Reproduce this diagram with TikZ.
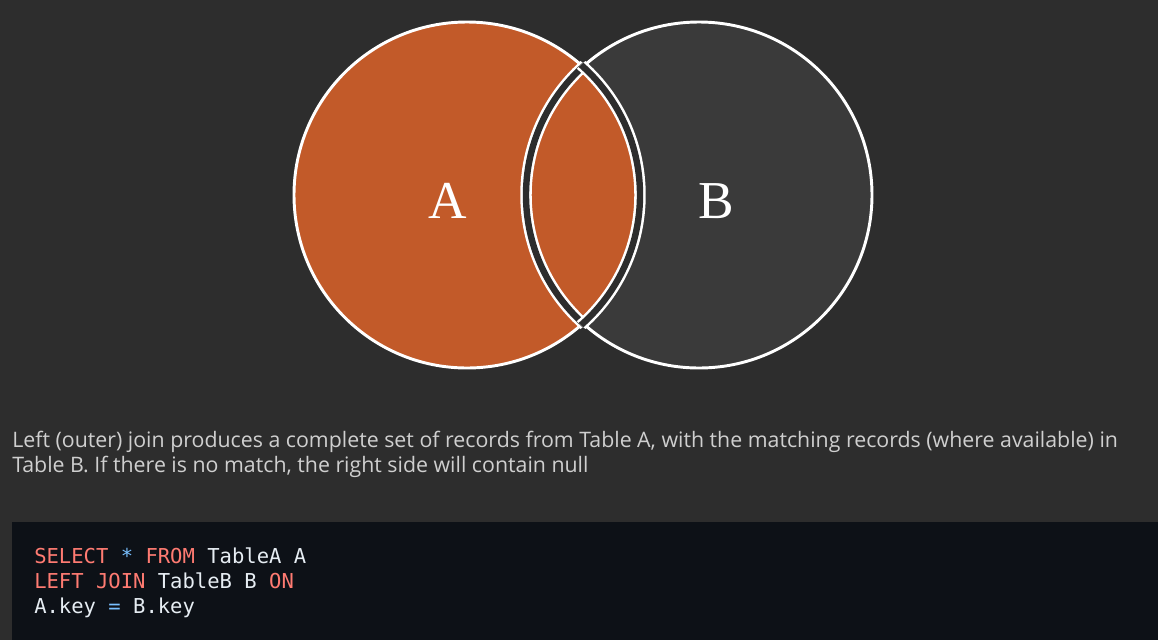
\documentclass[tikz,border=0pt]{standalone}
\usepackage{fontspec}
\usepackage{xcolor}
\usepackage{tikz}

\newfontfamily\descfont{Open Sans}
\newfontfamily\labelfont{Liberation Serif}
\setmonofont{DejaVu Sans Mono}

\definecolor{bgdark}{HTML}{2D2D2D}
\definecolor{setorange}{HTML}{C25A29}
\definecolor{setgrey}{HTML}{3A3A3A}
\definecolor{codebg}{HTML}{0D1117}
\definecolor{kwred}{HTML}{FF7B72}
\definecolor{opblue}{HTML}{79C0FF}
\definecolor{codetext}{HTML}{E6EDF3}
\definecolor{desctext}{HTML}{CFCFCF}

\tikzset{
  setline/.style={draw=white, line width=2.2pt},
  gapline/.style={draw=white, line width=1.9pt, double=bgdark, double distance=4.8pt},
  setlabel/.style={text=white, inner sep=0pt, anchor=base, font=\labelfont\fontsize{40pt}{42pt}\selectfont},
  desc/.style={text=desctext, inner sep=0pt, anchor=base west, font=\descfont\fontsize{16pt}{18pt}\selectfont},
  codeline/.style={text=codetext, inner sep=0pt, anchor=base west, font=\ttfamily\fontsize{15.4pt}{18pt}\selectfont}
}
\newcommand{\kw}[1]{\textcolor{kwred}{#1}}
\newcommand{\op}[1]{\textcolor{opblue}{#1}}
\def\rad{129.75pt}

\begin{document}
\begin{tikzpicture}[x=0.75pt,y=-0.75pt]
\fill[bgdark] (0,0) rectangle (1158,640);
\useasboundingbox (0,0) rectangle (1158,640);

\coordinate (cA) at (467,195);
\coordinate (cB) at (699,195);

% the two sets
\fill[setorange] (cA) circle (\rad);
\fill[setgrey] (cB) circle (\rad);
\begin{scope}
  \clip (cA) circle (\rad);
  \fill[setorange] (cB) circle (\rad);
\end{scope}
\draw[setline] (cA) circle (\rad);
\draw[setline] (cB) circle (\rad);

% gaps round the overlap
\begin{scope}
  \clip (cA) circle (\rad+2pt);
  \draw[gapline] (cB) circle (\rad);
\end{scope}
\begin{scope}
  \clip (cB) circle (\rad+2pt);
  \draw[gapline] (cA) circle (\rad);
\end{scope}

\node[setlabel] (labelA) at (448,218) {A};
\node[setlabel] (labelB) at (716,218) {B};

% description
\node[desc] (desc1) at (12,447) {Left (outer) join produces a complete set of records from Table A, with the matching records (where available) in};
\node[desc] (desc2) at ([yshift=-18.75pt]desc1.base west) {Table B. If there is no match, the right side will contain null};

% code block
\fill[codebg] (12,522) rectangle (1158,640);
\node[codeline] (sql1) at (34,563) {\kw{SELECT} \op{*} \kw{FROM} TableA A};
\node[codeline] (sql2) at ([yshift=-18.75pt]sql1.base west) {\kw{LEFT JOIN} TableB B \kw{ON}};
\node[codeline] (sql3) at ([yshift=-18.75pt]sql2.base west) {A.key \op{=} B.key};
\end{tikzpicture}
\end{document}
